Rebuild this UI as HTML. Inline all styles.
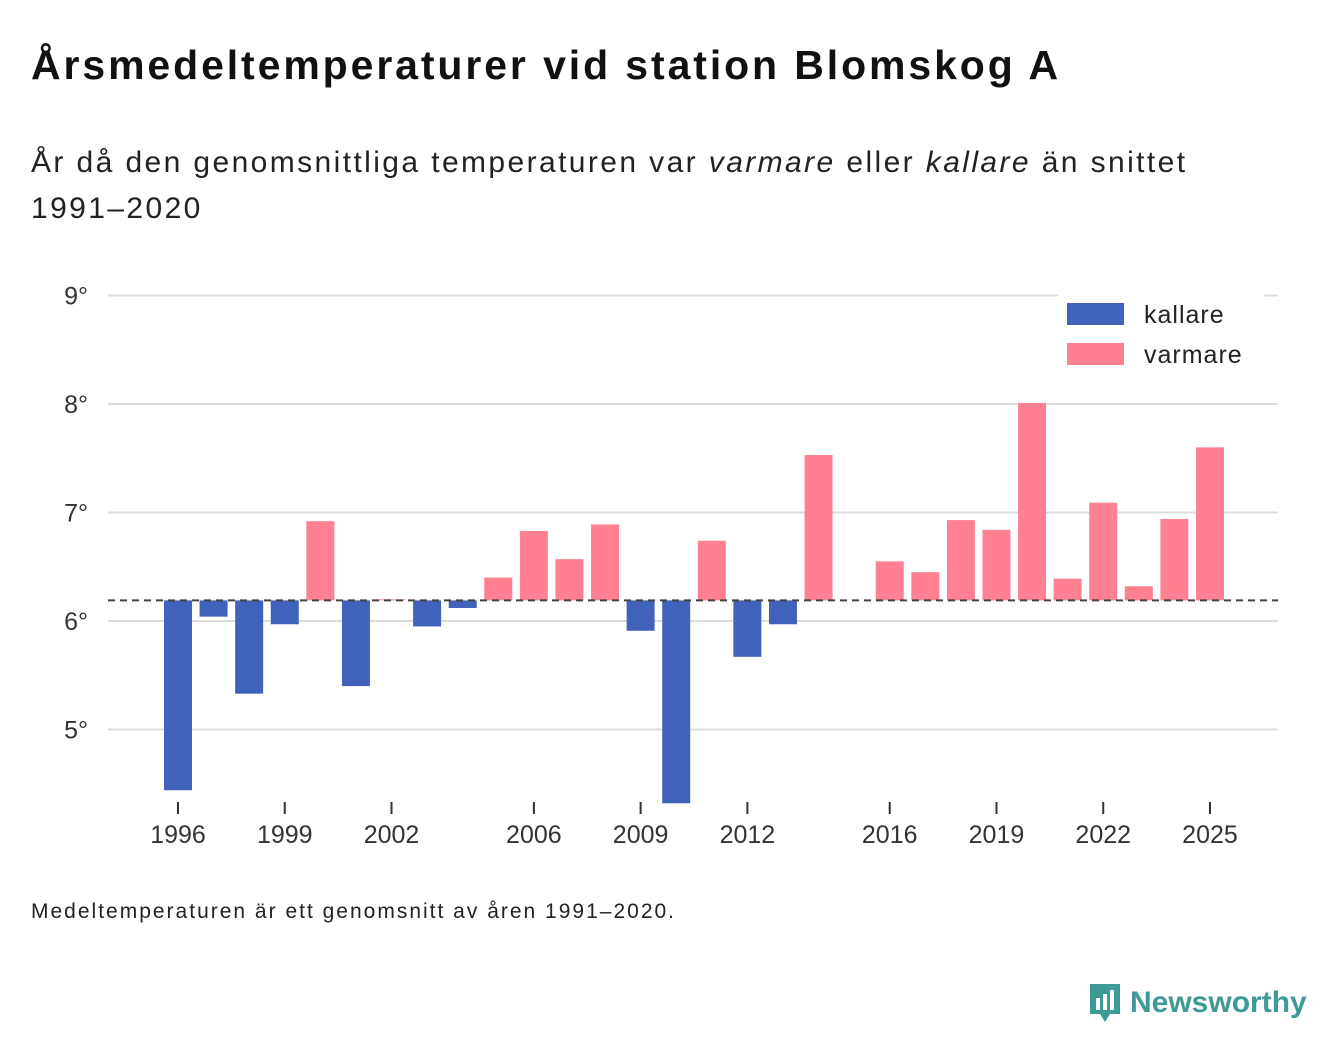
<!DOCTYPE html>
<html><head><meta charset="utf-8"><style>
body{margin:0;background:#fff;width:1340px;height:1056px;overflow:hidden;font-family:"Liberation Sans","DejaVu Sans",sans-serif;color:#111}
h1{position:absolute;left:31px;top:42px;margin:0;font-size:41px;font-weight:bold;letter-spacing:2.9px;white-space:nowrap}
.sub{position:absolute;left:31px;top:140px;font-size:30px;line-height:46px;color:#222;width:1200px;letter-spacing:2.4px}
.foot{position:absolute;left:31px;top:900px;font-size:21px;color:#222;letter-spacing:2px;white-space:nowrap}
.logo{position:absolute;left:1088px;top:982px;display:flex;align-items:center;gap:8px;color:#3d9a96;font-weight:bold;font-size:30px}
</style></head><body>
<h1>Årsmedeltemperaturer vid station Blomskog A</h1>
<div class="sub">År då den genomsnittliga temperaturen var <i>varmare</i> eller <i>kallare</i> än snittet 1991–2020</div>
<svg id="chart" width="1340" height="1056" style="position:absolute;left:0;top:0"></svg>
<div class="foot">Medeltemperaturen är ett genomsnitt av åren 1991–2020.</div>
<div class="logo"><svg width="34" height="42" viewBox="0 0 34 42"><path d="M2 2h30v30H22l-5 8-5-8H2z" fill="#3d9a96"/><rect x="8" y="16" width="4" height="12" fill="#fff"/><rect x="15" y="12" width="4" height="16" fill="#fff"/><rect x="22" y="8" width="4" height="20" fill="#fff"/></svg><span>Newsworthy</span></div>
<script>
const years=[1996,1997,1998,1999,2000,2001,2002,2003,2004,2005,2006,2007,2008,2009,2010,2011,2012,2013,2014,2015,2016,2017,2018,2019,2020,2021,2022,2023,2024,2025];
const temps=[4.44,6.04,5.33,5.97,6.92,5.40,6.20,5.95,6.12,6.40,6.83,6.57,6.89,5.91,4.32,6.74,5.67,5.97,7.53,null,6.55,6.45,6.93,6.84,8.01,6.39,7.09,6.32,6.94,7.60];
const baseline=6.19;
const yTicks=[5,6,7,8,9];
const xTickYears=[1996,1999,2002,2006,2009,2012,2016,2019,2022,2025];
const ns="http://www.w3.org/2000/svg";
const svg=document.getElementById('chart');
const y=v=>621-(v-6)*108.5;
const x=yr=>178+(yr-1996)*35.586;
function mk(t,a){const e=document.createElementNS(ns,t);for(const k in a)e.setAttribute(k,a[k]);svg.appendChild(e);return e;}
yTicks.forEach(v=>{
 const l=mk('line',{x1:108,x2:1278,y1:y(v),y2:y(v),stroke:'#ddd','stroke-width':2});
 
 
 const t=mk('text',{x:88,y:y(v)+9,'text-anchor':'end','font-size':25,fill:'#333','font-family':'Liberation Sans, sans-serif'});
 t.textContent=v+'°';
 
 
});
years.forEach((yr,i)=>{
 const v=temps[i]; if(v==null) return;
 const top=Math.min(y(v),y(baseline)), h=Math.abs(y(v)-y(baseline));
 const r=mk('rect',{x:x(yr)-14,y:top,width:28,height:Math.max(h,1),fill:v<baseline?'#4062bb':'#ff8090'});
 
 
});
const bl=mk('line',{x1:108,x2:1278,y1:y(baseline),y2:y(baseline),stroke:'#444','stroke-width':2,'stroke-dasharray':'7,5'});


xTickYears.forEach(yr=>{
 const l=mk('line',{x1:x(yr),x2:x(yr),y1:802,y2:814,stroke:'#333','stroke-width':2});
 
 
 const t=mk('text',{x:x(yr),y:843,'text-anchor':'middle','font-size':25,fill:'#333','font-family':'Liberation Sans, sans-serif'});
 t.textContent=yr;
 
 
});
const bg=mk('rect',{x:1058,y:292,width:206,height:84,fill:'#fff'});


[['kallare','#4062bb',303],['varmare','#ff8090',343]].forEach(([n,c,yy])=>{
 const r=mk('rect',{x:1067,y:yy,width:57,height:22,fill:c});
 
 
 const t=mk('text',{x:1144,y:yy+20,'font-size':25,fill:'#222','font-family':'Liberation Sans, sans-serif','letter-spacing':1});
 t.textContent=n;
 
 
});
</script>
</body></html>
